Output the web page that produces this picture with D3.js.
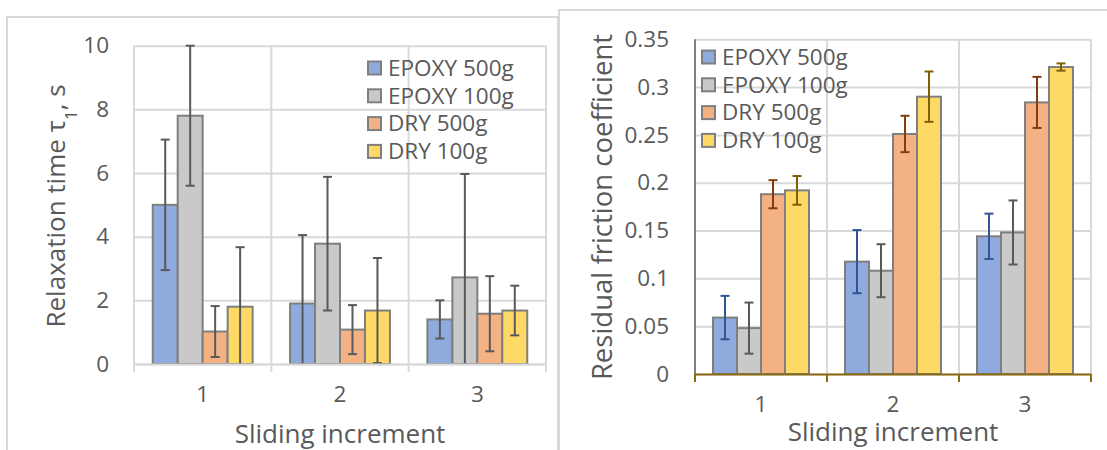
<!DOCTYPE html>
<html>
<head>
<meta charset="utf-8">
<script src="https://cdn.jsdelivr.net/npm/d3@7"></script>
<style>
  html, body { margin: 0; padding: 0; background: #ffffff; }
  svg { display: block; }
  text { font-family: "Open Sans", "Noto Sans", sans-serif; fill: #595959; }
</style>
</head>
<body>
<svg id="chart" width="1107" height="450"></svg>
<script>
// Groups on the x axis and the four test conditions
const categories = ["1", "2", "3"];
const seriesNames = ["EPOXY 500g", "EPOXY 100g", "DRY 500g", "DRY 100g"];

// Relaxation time tau1 (s): mean and error per sliding increment
const tauEpoxy500 = [5.0, 1.9, 1.4];
const tauEpoxy100 = [7.8, 3.78, 2.72];
const tauDry500 = [1.02, 1.08, 1.58];
const tauDry100 = [1.8, 1.68, 1.68];
const tauErrEpoxy500 = [2.05, 2.15, 0.6];
const tauErrEpoxy100 = [2.2, 2.1, 3.25];
const tauErrDry500 = [0.8, 0.77, 1.18];
const tauErrDry100 = [1.87, 1.65, 0.78];
const tauTicks = [0, 2, 4, 6, 8, 10];

// Residual friction coefficient: mean and error per sliding increment
const muEpoxy500 = [0.059, 0.1175, 0.144];
const muEpoxy100 = [0.048, 0.108, 0.148];
const muDry500 = [0.188, 0.251, 0.284];
const muDry100 = [0.192, 0.290, 0.321];
const muErrEpoxy500 = [0.0227, 0.033, 0.0237];
const muErrEpoxy100 = [0.0267, 0.0277, 0.0335];
const muErrDry500 = [0.0147, 0.019, 0.0267];
const muErrDry100 = [0.015, 0.0263, 0.0038];
const muTicks = [0, 0.05, 0.1, 0.15, 0.2, 0.25, 0.3, 0.35];

const fills = ["#8faadc", "#c9c9c9", "#f4b183", "#ffd966"];
const svg = d3.select("#chart");

// Outer chart-area frames
svg.append("rect").attr("x", 7).attr("y", 17).attr("width", 551).attr("height", 460)
  .attr("fill", "#fff").attr("stroke", "#d9d9d9").attr("stroke-width", 2);
svg.append("rect").attr("x", 559).attr("y", 10).attr("width", 560).attr("height", 460)
  .attr("fill", "#fff").attr("stroke", "#d9d9d9").attr("stroke-width", 2);

function drawPanel(cfg) {
  const g = svg.append("g");
  const x = d3.scaleBand().domain(categories).range([cfg.x0, cfg.x1]);
  // Excel-style clustered bars: gap width 150% of a bar
  const barW = x.bandwidth() / (seriesNames.length + 1.5);
  const x1 = d3.scaleBand().domain(seriesNames)
    .range([0, barW * seriesNames.length]);
  const y = d3.scaleLinear().domain([0, cfg.max]).range([cfg.yBottom, cfg.yTop]);

  // horizontal gridlines
  g.append("g").attr("transform", `translate(${cfg.x0},0)`)
    .call(d3.axisLeft(y).tickValues(cfg.ticks).tickSize(-(cfg.x1 - cfg.x0)).tickFormat(""))
    .call(a => a.select(".domain").remove())
    .call(a => a.selectAll("line").attr("stroke", "#d9d9d9").attr("stroke-width", 2));

  // vertical gridlines at category boundaries
  const bounds = categories.map(c => x(c) + x.bandwidth());
  g.selectAll(".vgrid").data(bounds).join("line")
    .attr("x1", d => d).attr("x2", d => d)
    .attr("y1", cfg.yTop).attr("y2", cfg.yBottom)
    .attr("stroke", "#d9d9d9").attr("stroke-width", 2);

  // y axis labels
  g.append("g").attr("transform", `translate(${cfg.x0},0)`)
    .call(d3.axisLeft(y).tickValues(cfg.ticks).tickSize(0).tickPadding(cfg.tickPad)
      .tickFormat(cfg.fmt))
    .call(a => a.select(".domain").remove())
    .call(a => a.selectAll("text").style("font-size", "22.5px")
      .style("font-family", '"Open Sans", sans-serif').attr("fill", "#595959"));

  // bars
  const groups = g.selectAll(".grp").data(categories).join("g")
    .attr("transform", c => `translate(${x(c) + barW * 0.75},0)`);
  seriesNames.forEach((s, si) => {
    groups.append("rect")
      .attr("x", x1(s))
      .attr("y", (c, ci) => y(cfg.values[si][ci]))
      .attr("width", x1.bandwidth())
      .attr("height", (c, ci) => y(0) - y(cfg.values[si][ci]))
      .attr("fill", fills[si]).attr("stroke", "#7f7f7f").attr("stroke-width", 2);
  });

  // error bars, clipped at the value axis
  seriesNames.forEach((s, si) => {
    const col = cfg.errColors[si];
    groups.each(function (c, ci) {
      const v = cfg.values[si][ci], e = cfg.errors[si][ci];
      const cx = x1(s) + x1.bandwidth() / 2;
      const hi = v + e, lo = v - e;
      const gg = d3.select(this);
      const yHi = y(Math.min(hi, cfg.max)), yLo = y(Math.max(lo, 0));
      gg.append("line").attr("x1", cx).attr("x2", cx).attr("y1", yHi).attr("y2", yLo)
        .attr("stroke", col).attr("stroke-width", 2);
      const caps = [yHi];
      if (lo >= 0) caps.push(yLo);
      caps.forEach(yy => gg.append("line").attr("x1", cx - 4.5).attr("x2", cx + 4.5)
        .attr("y1", yy).attr("y2", yy).attr("stroke", col).attr("stroke-width", 2));
    });
  });

  // value axis line
  g.append("line").attr("x1", cfg.x0).attr("x2", cfg.x0)
    .attr("y1", cfg.yTop).attr("y2", cfg.yBottom)
    .attr("stroke", cfg.yAxisColor).attr("stroke-width", 2);

  // category axis with outward ticks at boundaries
  g.append("g").attr("transform", `translate(0,${cfg.yBottom})`)
    .call(d3.axisBottom(x).tickSize(0).tickPadding(cfg.catPad))
    .call(a => a.select(".domain").attr("stroke", cfg.xAxisColor).attr("stroke-width", 2))
    .call(a => a.selectAll("text").style("font-size", "22.5px")
      .style("font-family", '"Open Sans", sans-serif').attr("fill", "#595959"));
  g.selectAll(".xtick").data([cfg.x0].concat(bounds)).join("line")
    .attr("x1", d => d).attr("x2", d => d)
    .attr("y1", cfg.yBottom).attr("y2", cfg.yBottom + 8)
    .attr("stroke", cfg.xAxisColor).attr("stroke-width", 2);

  // axis titles
  g.append("text").attr("x", (cfg.x0 + cfg.x1) / 2).attr("y", cfg.xTitleY)
    .attr("text-anchor", "middle").style("font-size", "26px").text("Sliding increment");
  const yt = g.append("text")
    .attr("transform", `translate(${cfg.yTitleX},${cfg.yTitleMid}) rotate(-90)`)
    .attr("text-anchor", "middle").style("font-size", cfg.yTitleSize);
  cfg.yTitle(yt);

  // legend
  const lg = g.append("g").attr("transform", `translate(${cfg.legX},${cfg.legY})`);
  seriesNames.forEach((s, si) => {
    const row = lg.append("g").attr("transform", `translate(0,${si * 27.8})`);
    row.append("rect").attr("x", 0).attr("y", -6.5).attr("width", 13).attr("height", 13)
      .attr("fill", fills[si]).attr("stroke", "#7f7f7f").attr("stroke-width", 2);
    row.append("text").attr("x", 20).attr("y", 0).attr("dy", "0.35em")
      .style("font-size", "22.5px").text(s);
  });
}

drawPanel({
  x0: 134, x1: 546, yTop: 45.7, yBottom: 364, max: 10, ticks: tauTicks,
  fmt: d3.format("d"), tickPad: 25, catPad: 22,
  values: [tauEpoxy500, tauEpoxy100, tauDry500, tauDry100],
  errors: [tauErrEpoxy500, tauErrEpoxy100, tauErrDry500, tauErrDry100],
  errColors: ["#595959", "#595959", "#595959", "#595959"],
  yAxisColor: "#d9d9d9", xAxisColor: "#d9d9d9",
  xTitleY: 443, yTitleX: 65, yTitleMid: 206, yTitleSize: "26px",
  yTitle: t => {
    t.append("tspan").text("Relaxation time τ");
    t.append("tspan").attr("baseline-shift", "sub").style("font-size", "17px").text("1");
    t.append("tspan").text(", s");
  },
  legX: 368, legY: 68
});

drawPanel({
  x0: 695, x1: 1091, yTop: 39.3, yBottom: 374, max: 0.35, ticks: muTicks,
  fmt: d => d === 0 ? "0" : String(+d.toFixed(2)), tickPad: 26, catPad: 22,
  values: [muEpoxy500, muEpoxy100, muDry500, muDry100],
  errors: [muErrEpoxy500, muErrEpoxy100, muErrDry500, muErrDry100],
  errColors: ["#2f5597", "#595959", "#843c0c", "#7f6000"],
  yAxisColor: "#808080", xAxisColor: "#8a6a10",
  xTitleY: 441, yTitleX: 612, yTitleMid: 207, yTitleSize: "27.5px",
  yTitle: t => t.text("Residual friction coefficient"),
  legX: 702, legY: 57
});
</script>
</body>
</html>
